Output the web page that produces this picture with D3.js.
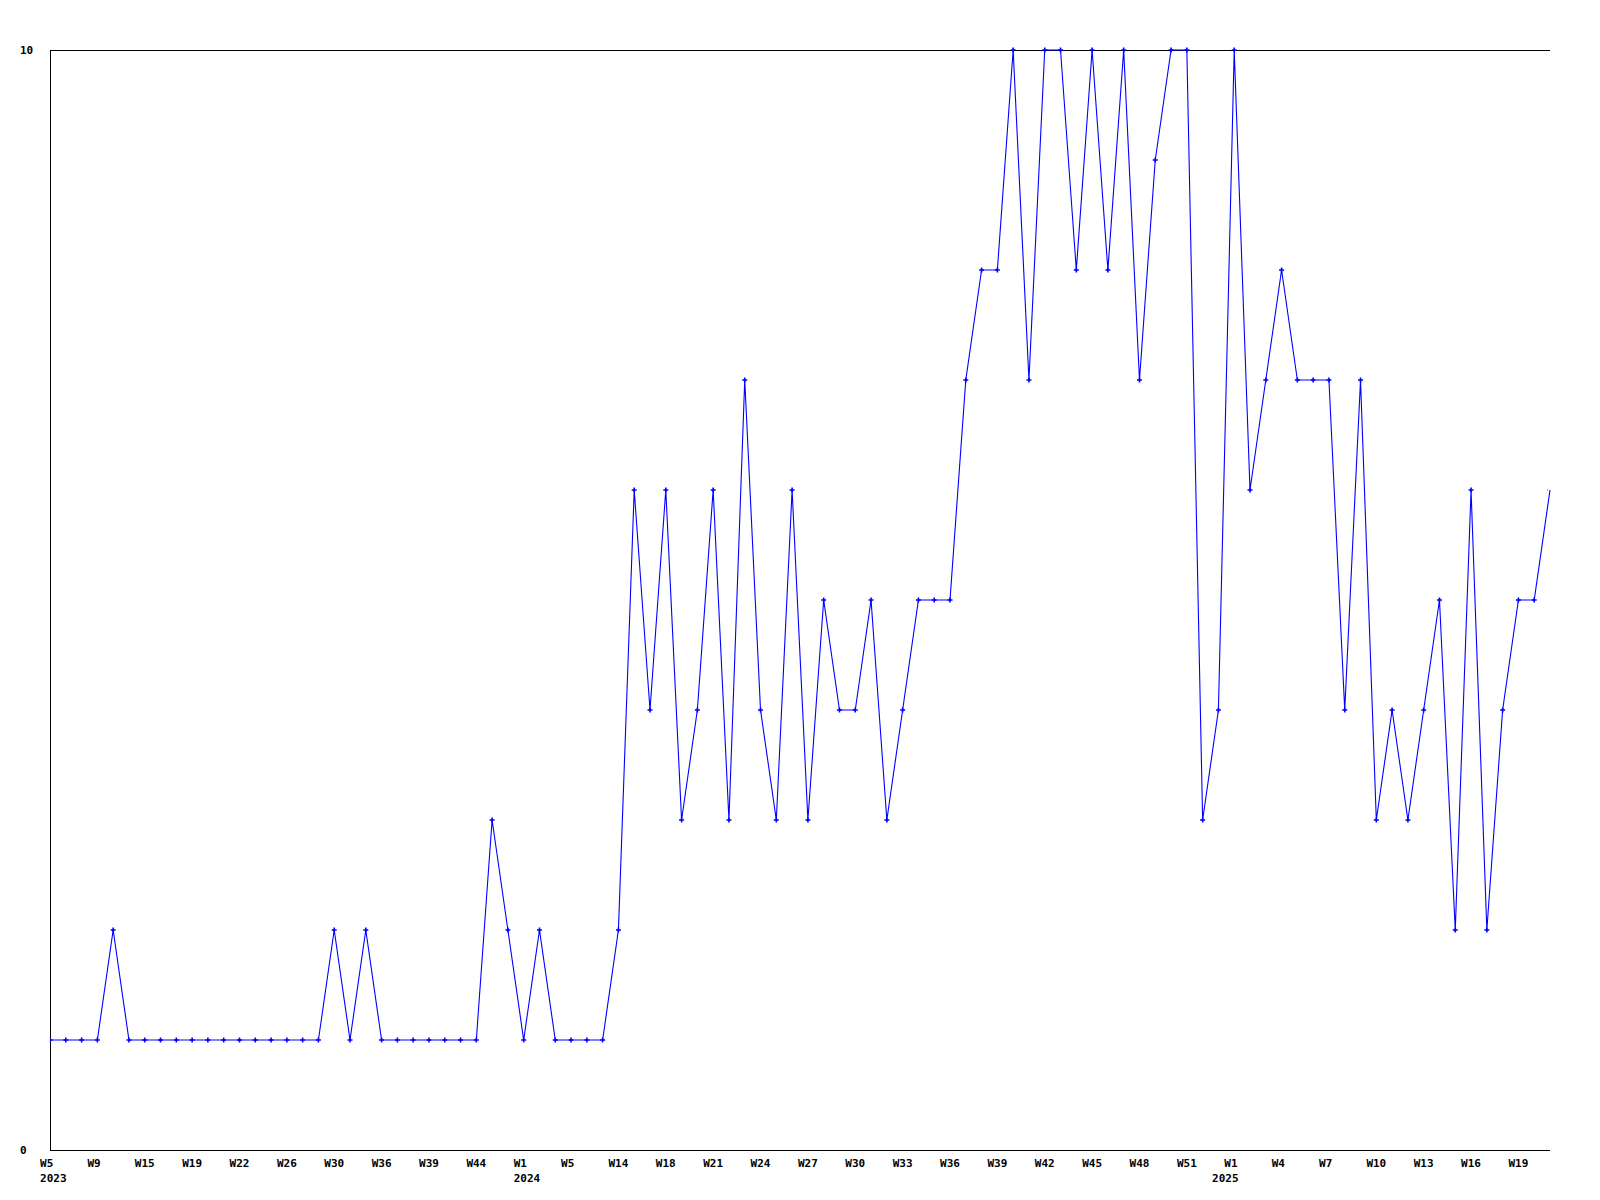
<!DOCTYPE html>
<html>
<head>
<meta charset="utf-8">
<script src="https://cdn.jsdelivr.net/npm/d3@7"></script>
<style>
  html, body { margin: 0; padding: 0; background: #ffffff; }
  svg text { font-family: "DejaVu Sans Mono", "Liberation Mono", monospace; font-weight: bold; font-size: 11px; fill: #000; }
</style>
</head>
<body>
<svg id="chart" width="1600" height="1200"></svg>
<script>
// ---- data ----
const weeks = [
  "W5","W7","W8","W9","W11","W13","W15","W16","W17","W19",
  "W20","W21","W22","W23","W25","W26","W28","W29","W30","W32",
  "W34","W36","W37","W38","W39","W41","W42","W44","W47","W50",
  "W1","W2","W4","W5","W8","W11","W14","W16","W17","W18",
  "W19","W20","W21","W22","W23","W24","W25","W26","W27","W28",
  "W29","W30","W31","W32","W33","W34","W35","W36","W37","W38",
  "W39","W40","W41","W42","W43","W44","W45","W46","W47","W48",
  "W49","W50","W51","W52","W52","W1","W2","W3","W4","W5",
  "W6","W7","W8","W9","W10","W11","W12","W13","W14","W15",
  "W16","W17","W18","W19","W20","W21"
];
const years = [
  2023,2023,2023,2023,2023,2023,2023,2023,2023,2023,
  2023,2023,2023,2023,2023,2023,2023,2023,2023,2023,
  2023,2023,2023,2023,2023,2023,2023,2023,2023,2023,
  2024,2024,2024,2024,2024,2024,2024,2024,2024,2024,
  2024,2024,2024,2024,2024,2024,2024,2024,2024,2024,
  2024,2024,2024,2024,2024,2024,2024,2024,2024,2024,
  2024,2024,2024,2024,2024,2024,2024,2024,2024,2024,
  2024,2024,2024,2024,2024,2025,2025,2025,2025,2025,
  2025,2025,2025,2025,2025,2025,2025,2025,2025,2025,
  2025,2025,2025,2025,2025,2025
];
const values = [
  1,1,1,1,2,1,1,1,1,1,
  1,1,1,1,1,1,1,1,2,1,
  2,1,1,1,1,1,1,1,3,2,
  1,2,1,1,1,1,2,6,4,6,
  3,4,6,3,7,4,3,6,3,5,
  4,4,5,3,4,5,5,5,7,8,
  8,10,7,10,10,8,10,8,10,7,
  9,10,10,3,4,10,6,7,8,7,
  7,7,4,7,3,4,3,4,5,2,
  6,2,4,5,5,6
];
const yTickValues = [0, 10];
const xTickEvery = 3;

// ---- layout ----
const mLeft = 50, mRight = 1550, mTop = 50, mBottom = 1150;
const charW = 6.62;
const yearAnchor = { 2023: "start", 2024: "start", 2025: "end" };
const svg = d3.select("#chart");
const idx = d3.range(values.length);

const x = d3.scalePoint().domain(idx).range([mLeft, mRight]);
const y = d3.scaleLinear().domain([0, 10]).range([mBottom, mTop]);

// frame: left, top, bottom
const frame = svg.append("g").attr("shape-rendering", "crispEdges")
  .attr("stroke", "#000").attr("stroke-width", 1);
frame.append("line").attr("x1", mLeft + 0.5).attr("x2", mLeft + 0.5).attr("y1", y(10)).attr("y2", y(0));
frame.append("line").attr("x1", mLeft).attr("x2", mRight).attr("y1", y(10) + 0.5).attr("y2", y(10) + 0.5);
frame.append("line").attr("x1", mLeft).attr("x2", mRight).attr("y1", y(0) + 0.5).attr("y2", y(0) + 0.5);

// y labels
svg.append("g").selectAll("text").data(yTickValues).join("text")
  .attr("x", 20).attr("y", d => y(d) + 4)
  .text(d => d);

// x labels (centred as if at least 3 characters wide)
const tickIdx = idx.filter(i => i % xTickEvery === 0);
const labelStart = i => x(i) - Math.max(weeks[i].length, 3) * charW / 2;
const xl = svg.append("g");
xl.selectAll("text.wk").data(tickIdx).join("text").attr("class", "wk")
  .attr("x", i => labelStart(i)).attr("y", 1167)
  .text(i => weeks[i]);
xl.selectAll("text.yr").data(tickIdx.filter(i => i === 0 || years[i] !== years[i - 1])).join("text").attr("class", "yr")
  .attr("x", i => yearAnchor[years[i]] === "end" ? labelStart(i) + weeks[i].length * charW + 1 : labelStart(i))
  .attr("text-anchor", i => yearAnchor[years[i]] || "start")
  .attr("y", 1182)
  .text(i => years[i]);

// clip for markers
svg.append("defs").append("clipPath").attr("id", "plotclip")
  .append("rect").attr("x", mLeft).attr("y", mTop - 5).attr("width", mRight - mLeft - 2).attr("height", mBottom - mTop + 10);

const line = d3.line().x(i => x(i)).y(i => y(values[i]));
svg.append("path").datum(idx)
  .attr("d", line)
  .attr("fill", "none").attr("stroke", "#0000ff").attr("stroke-width", 1.1);

svg.append("g").attr("clip-path", "url(#plotclip)")
  .selectAll("path").data(idx).join("path")
  .attr("transform", i => `translate(${x(i)},${y(values[i])})`)
  .attr("d", "M-2.5,0H2.5M0,-2.5V2.5")
  .attr("stroke", "#0000ff").attr("stroke-width", 1.6).attr("fill", "none");
</script>
</body>
</html>
